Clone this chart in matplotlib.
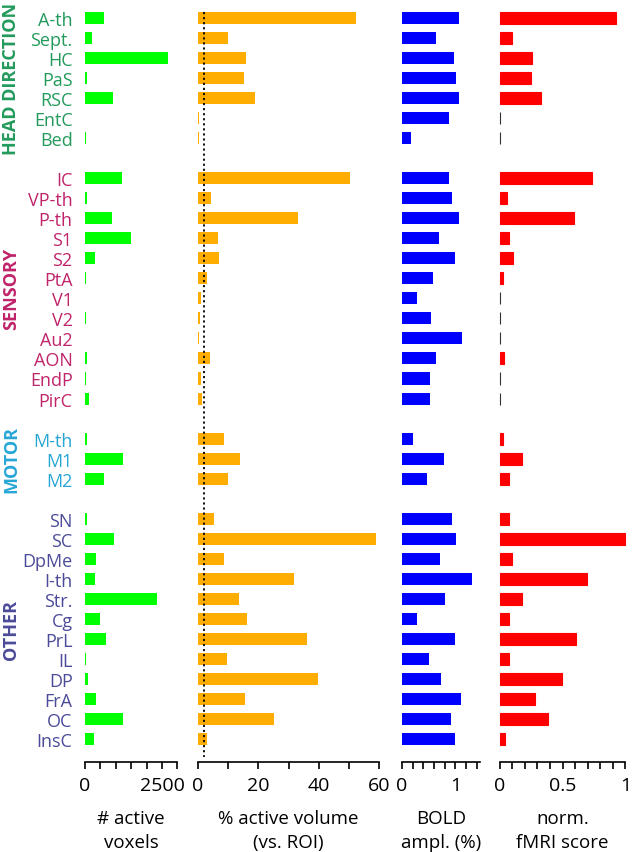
import numpy as np
import matplotlib.pyplot as plt
from matplotlib.ticker import MultipleLocator

plt.rcParams['font.family'] = ['Open Sans', 'DejaVu Sans']

groups = ["HEAD DIRECTION", "SENSORY", "MOTOR", "OTHER"]
group_colors = ["#239a5c", "#c0246a", "#27a6d6", "#4b4b99"]
regions = [
    ["A-th", "Sept.", "HC", "PaS", "RSC", "EntC", "Bed"],
    ["IC", "VP-th", "P-th", "S1", "S2", "PtA", "V1", "V2", "Au2", "AON", "EndP", "PirC"],
    ["M-th", "M1", "M2"],
    ["SN", "SC", "DpMe", "I-th", "Str.", "Cg", "PrL", "IL", "DP", "FrA", "OC", "InsC"],
]

voxels = [630, 240, 2680, 70, 900, 10, 30,
          1190, 50, 865, 1480, 325, 40, 15, 20, 5, 60, 20, 120,
          50, 1220, 630,
          50, 930, 345, 315, 2350, 490, 690, 40, 100, 357, 1220, 280]
volume = [52.3, 9.8, 15.9, 15.2, 18.9, 0.3, 0.4,
          50.4, 4.4, 33.1, 6.7, 7.1, 3.1, 0.9, 0.6, 0.3, 3.9, 0.9, 1.3,
          8.7, 13.9, 9.8,
          5.4, 58.9, 8.6, 31.9, 13.7, 16.1, 36.2, 9.5, 39.9, 15.6, 25.3, 3.1]
bold = [1.06, 0.64, 0.98, 1.01, 1.06, 0.88, 0.175,
        0.875, 0.94, 1.075, 0.70, 0.99, 0.575, 0.29, 0.54, 1.125, 0.64, 0.525, 0.53,
        0.21, 0.78, 0.46,
        0.94, 1.01, 0.72, 1.31, 0.81, 0.29, 1.0, 0.51, 0.74, 1.1, 0.91, 0.99]
score = [0.926, 0.098, 0.255, 0.249, 0.326, 0, 0,
         0.737, 0.061, 0.594, 0.072, 0.109, 0.024, 0, 0, 0, 0.035, 0, 0,
         0.024, 0.178, 0.072,
         0.077, 1.0, 0.098, 0.698, 0.178, 0.074, 0.61, 0.077, 0.496, 0.284, 0.382, 0.045]
threshold = 2  # % volume reference line

# row positions, one empty slot between groups
ypos, labels, label_colors, group_centers = [], [], [], []
slot = 0
for g, names in enumerate(regions):
    start = slot
    for name in names:
        ypos.append(slot)
        labels.append(name)
        label_colors.append(group_colors[g])
        slot += 1
    group_centers.append((start + slot - 1) / 2)
    slot += 1
ypos = np.array(ypos)

fig = plt.figure(figsize=(6.32, 8.53), dpi=100)
bottom, height = 0.1055, 0.891
ax1 = fig.add_axes([0.1345, bottom, 0.1462, height])
ax2 = fig.add_axes([0.3133, bottom, 0.2864, height])
ax3 = fig.add_axes([0.6361, bottom, 0.1240, height])
ax4 = fig.add_axes([0.7907, bottom, 0.1987, height])

bh = 0.6
ax1.barh(ypos, voxels, height=bh, color="#00ff00")
ax2.barh(ypos, volume, height=bh, color="#ffad00")
ax3.barh(ypos, bold, height=bh, color="#0000ff")
edge = ["#333333" if v == 0 else "#ff0000" for v in score]
ax4.barh(ypos, score, height=bh, color="#ff0000", edgecolor=edge, linewidth=0.8, clip_on=False)
ax2.vlines(threshold, ypos[0] - 0.3, ypos[-1] + 0.9, colors="black",
           linestyles=(0, (1.2, 1.6)), linewidth=1.3)

setups = [
    (ax1, (0, 3000), [0, 2500], 500, "# active\nvoxels"),
    (ax2, (0, 60), [0, 20, 40, 60], 10, "% active volume\n(vs. ROI)"),
    (ax3, (0, 1.47), [0, 1], 0.2, "BOLD\nampl. (%)"),
    (ax4, (0, 1), [0, 0.5, 1], 0.1, "norm.\nfMRI score"),
]
for ax, xl, majors, minor, xlabel in setups:
    ax.set_xlim(*xl)
    ax.set_ylim(ypos[-1] + 1.15, -0.8)
    for s in ["top", "right", "left"]:
        ax.spines[s].set_visible(False)
    ax.spines["bottom"].set_linewidth(1.2)
    ax.set_xticks(majors)
    ax.set_xticklabels([("%g" % m) for m in majors])
    ax.xaxis.set_minor_locator(MultipleLocator(minor))
    ax.tick_params(axis="x", which="both", length=5, width=1.2, direction="out",
                   labelsize=14, pad=5)
    ax.set_xlabel(xlabel, fontsize=13.5, labelpad=11, linespacing=1.4)
    ax.set_yticks([])

ax1.set_yticks(ypos)
ax1.set_yticklabels(labels, fontsize=13)
ax1.tick_params(axis="y", length=0, pad=9)
for t, c in zip(ax1.get_yticklabels(), label_colors):
    t.set_color(c)

for g, name in enumerate(groups):
    y_fig = ax1.transData.transform((0, group_centers[g]))[1]
    fig.text(11 / 632, y_fig / fig.dpi / fig.get_figheight(), name, rotation=90,
             ha="center", va="center", fontsize=13, fontweight="bold",
             color=group_colors[g])

fig.savefig("out.png", dpi=100)
